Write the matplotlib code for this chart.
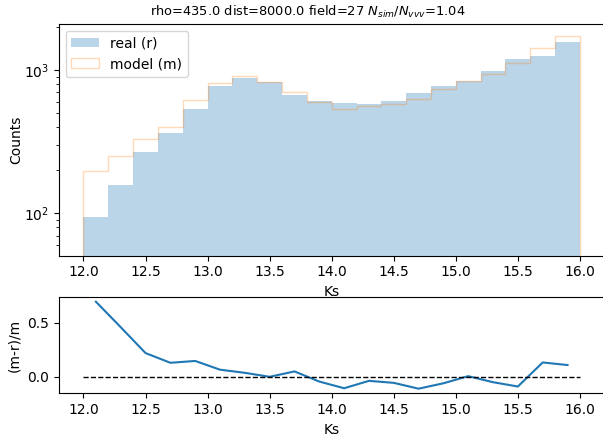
import numpy as np
import matplotlib
matplotlib.use('Agg')
import matplotlib.pyplot as plt

# bin edges of Ks (0.2 mag bins)
bin_edges = [12.0, 12.2, 12.4, 12.6, 12.8, 13.0, 13.2, 13.4, 13.6, 13.8, 14.0,
             14.2, 14.4, 14.6, 14.8, 15.0, 15.2, 15.4, 15.6, 15.8, 16.0]
bin_centers = [12.1, 12.3, 12.5, 12.7, 12.9, 13.1, 13.3, 13.5, 13.7, 13.9,
               14.1, 14.3, 14.5, 14.7, 14.9, 15.1, 15.3, 15.5, 15.7, 15.9]

# counts per bin
real_counts = [95, 158, 269, 361, 535, 769, 884, 824, 673, 605,
               589, 579, 611, 687, 777, 832, 984, 1199, 1244, 1557]
model_counts = [199, 251, 330, 403, 618, 815, 912, 828, 703, 595,
                535, 557, 583, 624, 738, 837, 946, 1111, 1423, 1742]

# relative residual (m-r)/m
residuals = [0.696, 0.46, 0.22, 0.13, 0.147, 0.066, 0.037, 0.0, 0.05, -0.044,
             -0.106, -0.0375, -0.056, -0.11, -0.06, 0.006, -0.05, -0.09, 0.133, 0.109]

fig = plt.figure(figsize=(6.03, 4.36), dpi=100)
ax1 = fig.add_axes([0.0973, 0.4135, 0.9056, 0.532])
ax2 = fig.add_axes([0.0973, 0.0979, 0.9056, 0.2202])

# Top: histograms
ax1.hist(bin_centers, bins=bin_edges, weights=real_counts, histtype='stepfilled',
         alpha=0.3, color='C0', label='real (r)')
ax1.hist(bin_centers, bins=bin_edges, weights=model_counts, histtype='step',
         alpha=0.3, color='C1', label='model (m)')
ax1.set_yscale('log')
ax1.set_ylim(50.6, 2104)
ax1.set_xlim(11.8, 16.2)
ax1.set_xlabel('Ks')
ax1.set_ylabel('Counts', labelpad=0.5)
ax1.legend(loc='upper left')
ax1.set_title('rho=435.0 dist=8000.0 field=27 $N_{sim}/N_{vvv}$=1.04',
              fontsize=9.4, x=0.4565)

# Bottom: residuals
ax2.plot(bin_centers, residuals, color='C0')
ax2.plot([bin_edges[0], bin_edges[-1]], [0, 0], 'k--', linewidth=1)
ax2.set_xlim(11.8, 16.2)
ax2.set_ylim(-0.153, 0.737)
ax2.set_xlabel('Ks')
ax2.set_ylabel('(m-r)/m')

fig.savefig('out.png', dpi=100)
